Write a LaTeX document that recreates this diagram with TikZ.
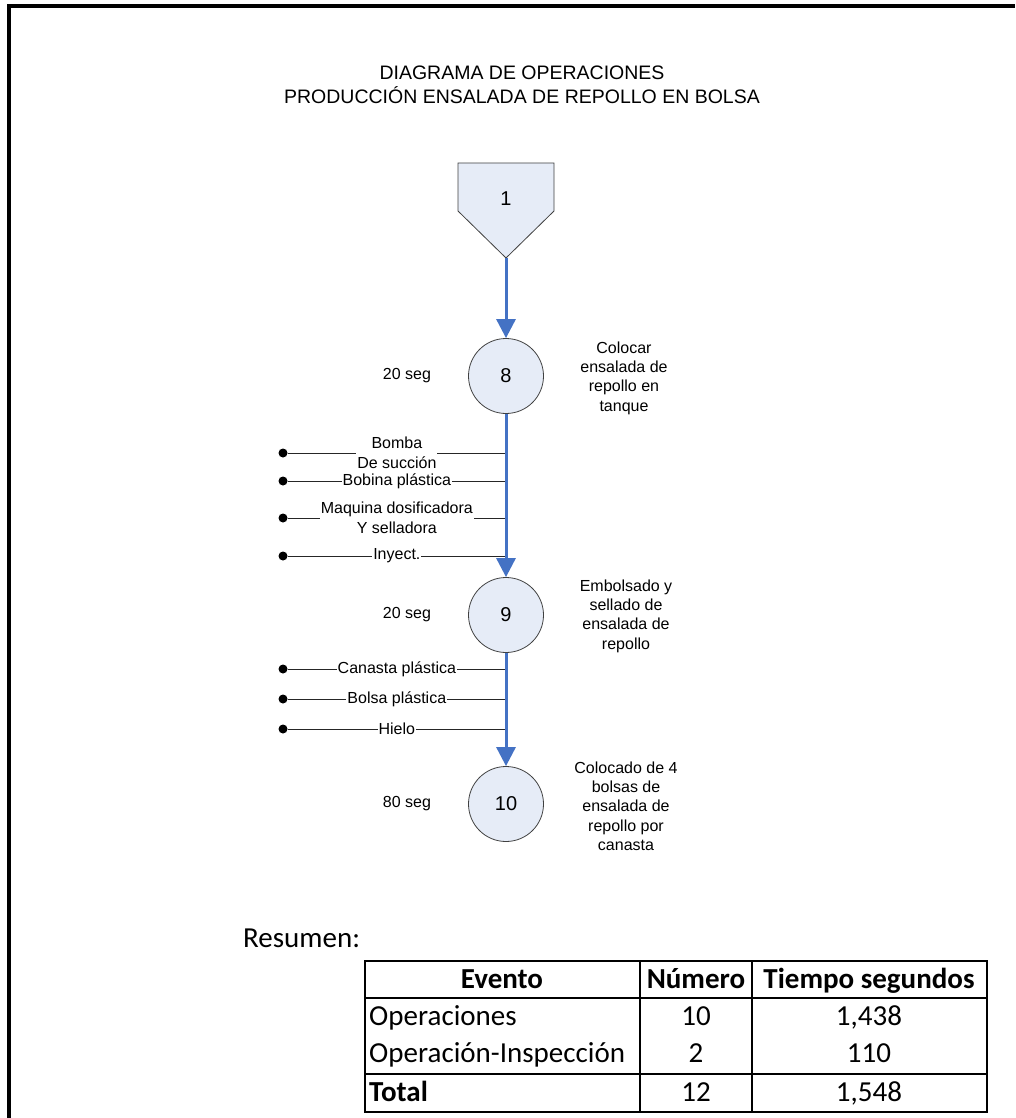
\documentclass[tikz,border=0pt]{standalone}
\usepackage{fontspec}
\setmainfont{Liberation Sans}
\newfontfamily\calibri{Carlito}
\usetikzlibrary{arrows.meta}
\definecolor{flow}{HTML}{4472C4}
\definecolor{opfill}{HTML}{E6ECF7}
\definecolor{opline}{HTML}{404040}
\begin{document}
\begin{tikzpicture}[x=1pt,y=-1pt,
  opcircle/.style={circle, draw=opline, fill=opfill, line width=0.8pt, minimum size=75pt, inner sep=0pt, font=\fontsize{20}{22}\selectfont},
  flowline/.style={draw=flow, line width=3pt, -{Triangle[length=19pt,width=19pt]}},
  feed/.style={draw=black!85, line width=1pt},
  dotnode/.style={circle, fill=black, minimum size=9pt, inner sep=0pt},
  feedlbl/.style={fill=white, inner sep=1pt, font=\fontsize{16}{19.5}\selectfont, align=center},
  timelbl/.style={font=\fontsize{16}{18}\selectfont},
  desc/.style={align=center, font=\fontsize{16}{19.3}\selectfont},
  cell/.style={inner sep=0pt, text height=20pt, text depth=6pt},
  tbl/.style={cell, font=\calibri\fontsize{29}{32}\selectfont},
  tblb/.style={cell, font=\calibri\bfseries\fontsize{29}{32}\selectfont},
  grid/.style={line width=2pt, draw=black}]
\useasboundingbox (0,0) rectangle (1015,1118);

% sheet frame (top and left edges)
\draw[line width=4pt] (9,1118) -- (9,6) -- (1015,6);

% title
\node[align=center, font=\fontsize{19.5}{24.5}\selectfont] (title) at (522,85)
  {DIAGRAMA DE OPERACIONES\\PRODUCCIÓN ENSALADA DE REPOLLO EN BOLSA};

% start symbol
\draw[draw=opline, fill=opfill, line width=0.8pt]
  (458,163) -- (554,163) -- (554,211) -- (506,258) -- (458,211) -- cycle;
\node[font=\fontsize{20}{22}\selectfont] (p1) at (506,199) {1};
\coordinate (p1tip) at (506,258);

% operations
\node[opcircle] (c8) at (506,376) {8};
\node[opcircle] (c9) at (506,615) {9};
\node[opcircle] (c10) at (506,804) {10};

% times
\node[timelbl] (t8) at (407,376) {20 seg};
\node[timelbl] (t9) at (407,615) {20 seg};
\node[timelbl] (t10) at (407,804) {80 seg};

% descriptions
\node[desc] (d8) at (624,378) {Colocar\\ensalada de\\repollo en\\tanque};
\node[desc] (d9) at (626,616) {Embolsado y\\sellado de\\ensalada de\\repollo};
\node[desc] (d10) at (626,806) {Colocado de 4\\bolsas de\\ensalada de\\repollo por\\canasta};

% material inputs
\foreach \n/\y/\txt in {a/453/{Bomba\\De succión}, b/481/{Bobina plástica},
    c/518/{Maquina dosificadora\\Y selladora}, d/556/{Inyect.},
    e/669/{Canasta plástica}, f/699/{Bolsa plástica}, g/729/{Hielo}} {
  \node[dotnode] (m\n) at (283,\y) {};
  \coordinate (j\n) at (506,\y);
  \draw[feed] (m\n) -- (j\n) node[midway, feedlbl] {\txt};
}

% flow
\draw[flowline] (p1tip) -- (c8);
\draw[flowline] (c8) -- (c9);
\draw[flowline] (c9) -- (c10);

% summary
\node[tbl, anchor=west] (res) at (243,940) {Resumen:};
\draw[grid] (365,961) rectangle (987,1112);
\draw[grid] (365,998) -- (987,998);
\draw[grid] (365,1074) -- (987,1074);
\draw[grid] (640,961) -- (640,1112);
\draw[grid] (752,961) -- (752,1112);

\node[tblb] (h1) at (502,981) {Evento};
\node[tblb] (h2) at (696,981) {Número};
\node[tblb] (h3) at (869,981) {Tiempo segundos};

\node[tbl, anchor=west] (r1a) at (369,1018) {Operaciones};
\node[tbl] (r1b) at (696,1018) {10};
\node[tbl] (r1c) at (869,1018) {1,438};
\node[tbl, anchor=west] (r2a) at (369,1055) {Operación-Inspección};
\node[tbl] (r2b) at (696,1055) {2};
\node[tbl] (r2c) at (869,1055) {110};
\node[tblb, anchor=west] (r3a) at (369,1094) {Total};
\node[tbl] (r3b) at (696,1094) {12};
\node[tbl] (r3c) at (869,1094) {1,548};
\end{tikzpicture}
\end{document}
